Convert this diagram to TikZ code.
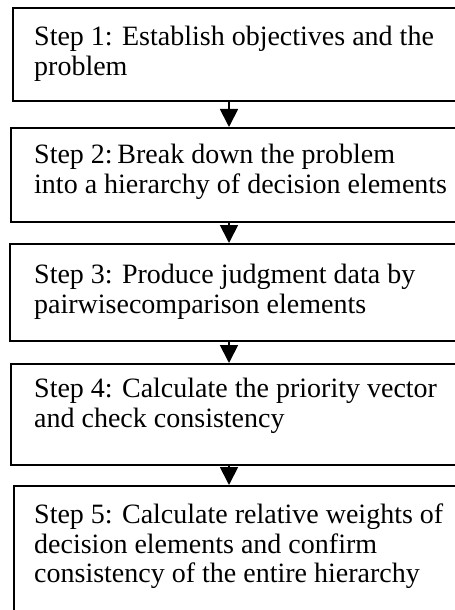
\documentclass[tikz,border=0pt]{standalone}
\usepackage{fontspec}
\setmainfont{Liberation Serif}
\usetikzlibrary{arrows.meta}
\begin{document}
\begin{tikzpicture}[x=1bp,y=-1bp,
  stepbox/.style={draw, line width=1.8bp, rectangle, inner sep=0pt, anchor=north west},
  steptext/.style={anchor=north west, inner sep=0pt, align=left, font=\fontsize{28bp}{29.5bp}\selectfont},
  flow/.style={line width=1.8bp, -{Triangle[width=18bp,length=18bp]}}]
\useasboundingbox (0,0) rectangle (455,610);
\clip (0,0) rectangle (455,610);
\node[stepbox, minimum width=458bp, minimum height=93bp] (b1) at (12,7) {};
\node[stepbox, minimum width=460bp, minimum height=94bp] (b2) at (10,127) {};
\node[stepbox, minimum width=461bp, minimum height=97bp] (b3) at (9,243) {};
\node[stepbox, minimum width=460bp, minimum height=101bp] (b4) at (10,363) {};
\node[stepbox, minimum width=457bp, minimum height=160bp] (b5) at (13,485) {};
\node[steptext] (t1) at (34,26) {Step 1: Establish objectives and the\\problem};
\node[steptext] (t2) at (34,144) {Step 2:\,Break down the problem\\into a hierarchy of decision elements};
\node[steptext] (t3) at (34,264) {Step 3: Produce judgment data by\\pairwisecomparison elements};
\node[steptext] (t4) at (34,378) {Step 4: Calculate the priority vector\\and check consistency};
\node[steptext] (t5) at (34,504) {Step 5: Calculate relative weights of\\decision elements and confirm\\consistency of the entire hierarchy};
\coordinate (ax) at (229,0);
\draw[flow] (b1.south -| ax) -- (b2.north -| ax);
\draw[flow] (b2.south -| ax) -- (b3.north -| ax);
\draw[flow] (b3.south -| ax) -- (b4.north -| ax);
\draw[flow] (b4.south -| ax) -- (b5.north -| ax);
\end{tikzpicture}
\end{document}
